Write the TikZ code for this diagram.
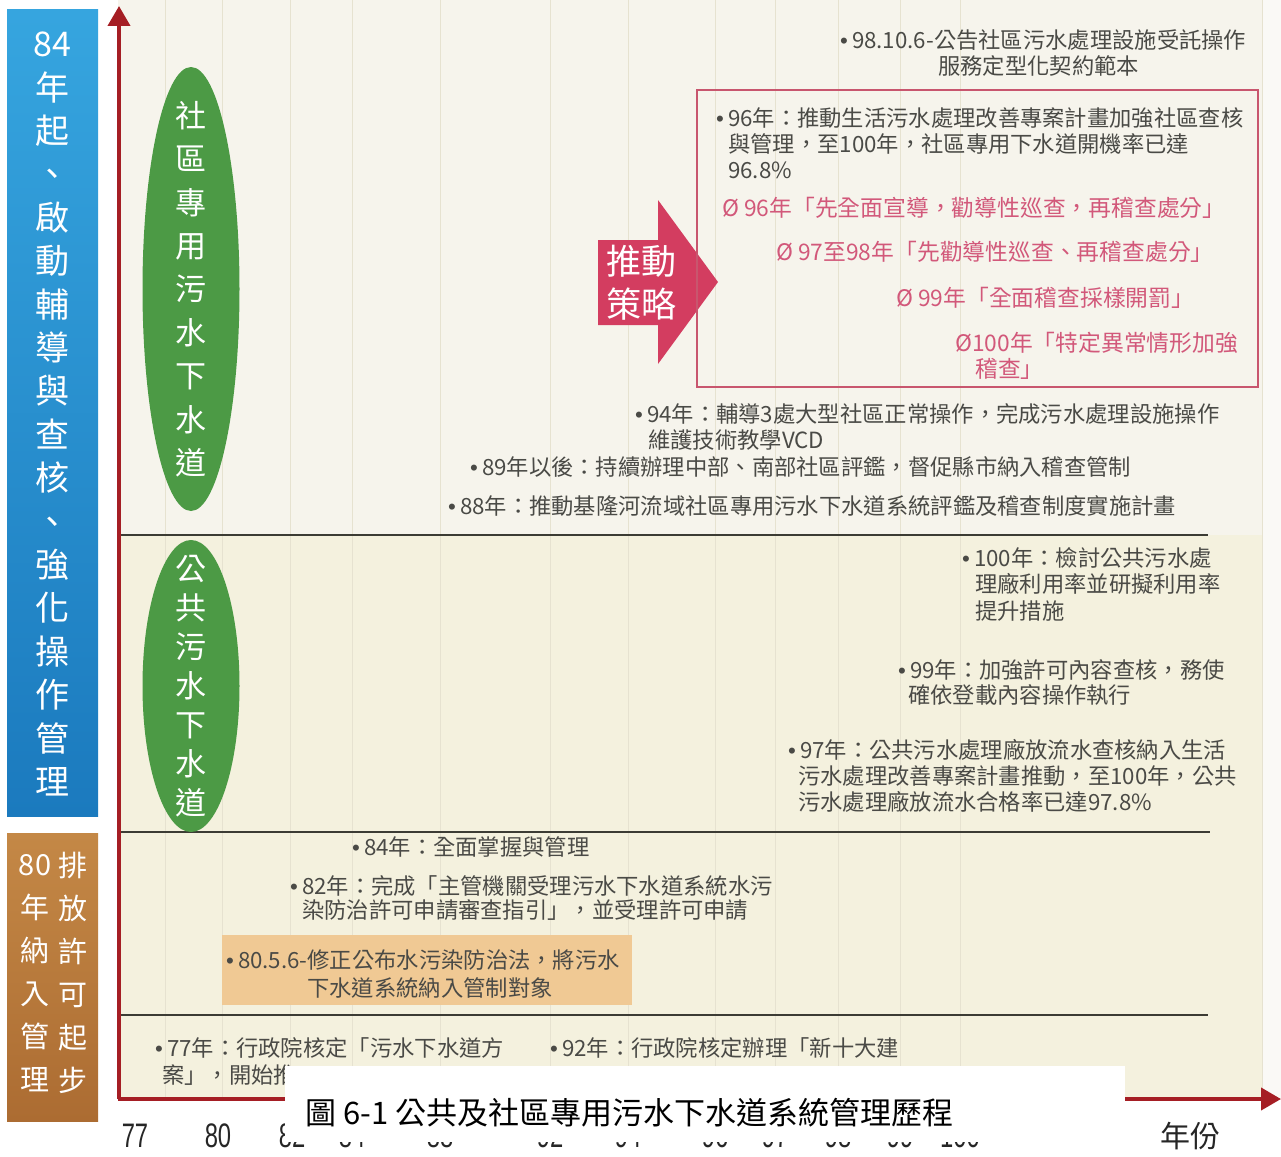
\documentclass[tikz,border=0pt]{standalone}
\usepackage{fontspec}
\setmainfont{Noto Sans CJK TC}
\newfontfamily\numfont{Liberation Sans}
\usetikzlibrary{arrows.meta,shapes.geometric}
\definecolor{txt}{HTML}{4A4A46}
\definecolor{pinktxt}{HTML}{D2587A}
\definecolor{frame}{HTML}{C8566E}
\definecolor{axisred}{HTML}{A51E24}
\definecolor{sep}{HTML}{3C3C34}
\definecolor{grn}{HTML}{4C9A45}
\definecolor{arrowpink}{HTML}{D33D60}
\definecolor{orangebox}{HTML}{F0C994}
\definecolor{bgtop}{HTML}{F6F4EC}
\definecolor{bglow}{HTML}{F4F1DE}
\definecolor{grid}{HTML}{E6E2D0}
\definecolor{bluetop}{HTML}{36A5DF}
\definecolor{bluebot}{HTML}{1B7ABE}
\definecolor{browntop}{HTML}{C48846}
\definecolor{brownbot}{HTML}{AC6C32}
\newcommand\mybul{{\numfont •}\hspace{4pt}}
\tikzset{
  body/.style={font=\fontsize{22.3}{26}\selectfont, text=txt, anchor=west, inner sep=0pt},
  pinkline/.style={font=\fontsize{22.8}{26}\selectfont, text=pinktxt, anchor=west, inner sep=0pt},
  vbar/.style={font=\fontsize{34}{43.4}\selectfont, text=white, align=center, inner sep=0pt},
  vbarb/.style={font=\fontsize{29}{43}\selectfont, text=white, align=center, inner sep=0pt},
  ellipsetext/.style={font=\fontsize{31}{43.4}\selectfont, text=white, align=center, inner sep=0pt},
  axisline/.style={draw=axisred, line width=4pt, -{Triangle[width=22pt,length=20pt]}},
  sepline/.style={draw=sep, line width=2.5pt},
  yearnum/.style={font=\numfont\fontsize{34}{34}\selectfont, text=black!85, inner sep=0pt},
}
\begin{document}
\begin{tikzpicture}[x=1pt,y=-1pt]
\useasboundingbox (0,0) rectangle (1281,1156);
\fill[white] (0,0) rectangle (1281,1156);
% panel backgrounds
\fill[bgtop] (118,0) rectangle (1281,535);
\fill[bglow] (118,535) rectangle (1281,1100);
\fill[white!50!bgtop] (1262,0) rectangle (1281,1100);
\foreach \gx in {165,222,290,352,440,550,628,715,775,838,900,960,1262}
  \draw[grid, line width=1pt] (\gx,0) -- (\gx,1100);

% left bars
\shade[top color=bluetop, bottom color=bluebot] (7,10) rectangle (98,816);
\node[vbar] (bluetext) at (52.5,414) {84\\年\\起\\、\\啟\\動\\輔\\導\\與\\查\\核\\、\\強\\化\\操\\作\\管\\理};
\shade[top color=browntop, bottom color=brownbot] (7,833) rectangle (98,1121);
\node[vbarb] (browntextR) at (73,973) {排\\放\\許\\可\\起\\步};
\node[vbarb] (browntextL) at (35,973) {80\\年\\納\\入\\管\\理};

% separators
\coordinate (s1a) at (118,535); \coordinate (s1b) at (1208,535);
\coordinate (s2a) at (118,832); \coordinate (s2b) at (1210,832);
\coordinate (s3a) at (118,1015); \coordinate (s3b) at (1208,1015);
\draw[sepline] (s1a) -- (s1b);
\draw[sepline] (s2a) -- (s2b);
\draw[sepline] (s3a) -- (s3b);

% axes
\coordinate (origin) at (119,1099);
\coordinate (ytop) at (119,6);
\coordinate (xstart) at (118,1099);
\coordinate (xend) at (1281,1099);
\draw[axisline] (origin) -- (ytop);
\draw[axisline] (xstart) -- (xend);

% green ellipses
\node[ellipse, fill=grn, minimum width=97pt, minimum height=444pt, inner sep=0pt] (ell1) at (191,289) {};
\node[ellipsetext] (ell1t) at (ell1.center) {社\\區\\專\\用\\污\\水\\下\\水\\道};
\node[ellipse, fill=grn, minimum width=97pt, minimum height=292pt, inner sep=0pt] (ell2) at (191,686) {};
\node[ellipsetext, font=\fontsize{31}{39}\selectfont] (ell2t) at (ell2.center) {公\\共\\污\\水\\下\\水\\道};

% pink strategy arrow
\fill[arrowpink] (598,240) -- (658,240) -- (658,200) -- (718,282) -- (658,364) -- (658,325) -- (598,325) -- cycle;
\node[font=\fontsize{35}{43}\selectfont, text=white, align=center, inner sep=0pt] (strategy) at (641,283) {推動\\策略};

% pink frame
\draw[frame, line width=2pt] (697,90) rectangle (1258,387);

% top texts
\node[body] (t98a) at (840,40) {\mybul 98.10.6-公告社區污水處理設施受託操作};
\node[body] (t98b) at (938,66) {服務定型化契約範本};
\node[body] (t96a) at (716,118) {\mybul 96年：推動生活污水處理改善專案計畫加強社區查核};
\node[body] (t96b) at (728,144) {與管理，至100年，社區專用下水道開機率已達};
\node[body] (t96c) at (728,170) {96.8\%};
\node[pinkline] (p1) at (722,208) {Ø 96年「先全面宣導，勸導性巡查，再稽查處分」};
\node[pinkline] (p2) at (776,252) {Ø 97至98年「先勸導性巡查、再稽查處分」};
\node[pinkline] (p3) at (896,298) {Ø 99年「全面稽查採樣開罰」};
\node[pinkline] (p4a) at (955,343) {Ø100年「特定異常情形加強};
\node[pinkline] (p4b) at (975,369) {稽查」};
\node[body] (t94a) at (635,414) {\mybul 94年：輔導3處大型社區正常操作，完成污水處理設施操作};
\node[body] (t94b) at (648,440) {維護技術教學VCD};
\node[body] (t89) at (470,467) {\mybul 89年以後：持續辦理中部、南部社區評鑑，督促縣市納入稽查管制};
\node[body] (t88) at (448,506) {\mybul 88年：推動基隆河流域社區專用污水下水道系統評鑑及稽查制度實施計畫};

% public sewer texts
\node[body] (t100a) at (962,558) {\mybul 100年：檢討公共污水處};
\node[body] (t100b) at (975,584) {理廠利用率並研擬利用率};
\node[body] (t100c) at (975,611) {提升措施};
\node[body] (t99a) at (898,670) {\mybul 99年：加強許可內容查核，務使};
\node[body] (t99b) at (908,695) {確依登載內容操作執行};
\node[body] (t97a) at (788,750) {\mybul 97年：公共污水處理廠放流水查核納入生活};
\node[body] (t97b) at (798,776) {污水處理改善專案計畫推動，至100年，公共};
\node[body] (t97c) at (798,802) {污水處理廠放流水合格率已達97.8\%};

% permit texts
\node[body] (t84) at (352,847) {\mybul 84年：全面掌握與管理};
\node[body] (t82a) at (290,886) {\mybul 82年：完成「主管機關受理污水下水道系統水污};
\node[body] (t82b) at (302,910) {染防治許可申請審查指引」，並受理許可申請};
\fill[orangebox] (222,935) rectangle (632,1005);
\node[body] (t80a) at (226,960) {\mybul 80.5.6-修正公布水污染防治法，將污水};
\node[body, anchor=center] (t80b) at (430,988) {下水道系統納入管制對象};

% bottom row
\node[body] (t77a) at (155,1048) {\mybul 77年：行政院核定「污水下水道方};
\node[body] (t77b) at (162,1075) {案」，開始推};
\node[body] (t92a) at (550,1048) {\mybul 92年：行政院核定辦理「新十大建};

% year axis labels (partly hidden by the caption box, as in the reference)
\foreach \yx/\yl in {135/77,218/80,292/82,352/84,440/88,550/92,628/94,715/96,775/97,838/98,900/99,960/100}
  \node[yearnum] (y\yl) at (\yx,1136) {\scalebox{0.7}[1]{\yl}};
\node[font=\fontsize{30}{30}\selectfont, text=black!85, inner sep=0pt] (yearlabel) at (1190,1136) {年份};

% caption
\fill[white] (285,1066) rectangle (1125,1142);
\node[font=\fontsize{31}{31}\selectfont, text=black, anchor=west, inner sep=0pt] (caption) at (305,1113) {圖 6-1 公共及社區專用污水下水道系統管理歷程};
\end{tikzpicture}
\end{document}
